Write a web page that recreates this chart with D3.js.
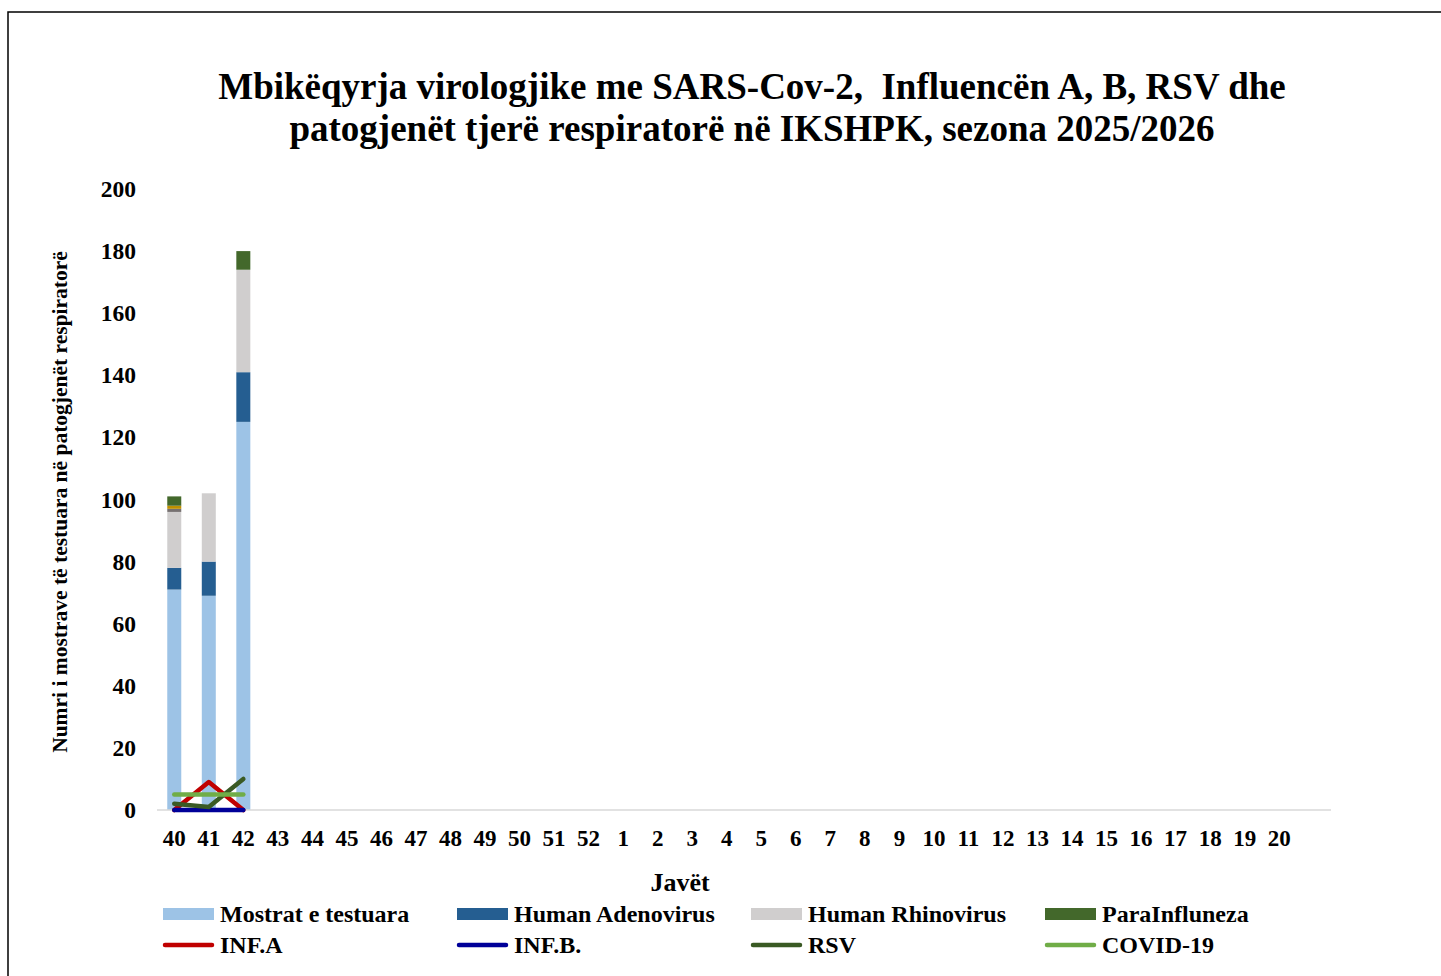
<!DOCTYPE html>
<html><head><meta charset="utf-8">
<script src="https://cdn.jsdelivr.net/npm/d3@7"></script>
<style>body{margin:0;background:#fff}svg{display:block}text{font-family:"Liberation Serif","Times New Roman",serif;font-weight:bold;fill:#000;white-space:pre}</style>
</head><body>
<script>
const weeks = ["40","41","42","43","44","45","46","47","48","49","50","51","52","1","2","3","4","5","6","7","8","9","10","11","12","13","14","15","16","17","18","19","20",""];
const mostrat     = [71, 69, 125];
const adenovirus  = [7, 11, 16];
const rhinovirus  = [18, 22, 33];
const otherGrey   = [1, 0, 0];
const otherGold   = [1, 0, 0];
const paraInfl    = [3, 0, 6];
const infA  = [0, 9, 0];
const infB  = [0, 0, 0];
const rsv   = [2, 1, 10];
const covid = [5, 5, 5];
const yTicks = [0,20,40,60,80,100,120,140,160,180,200];

const W = 1441, H = 976;
const svg = d3.select("body").append("svg").attr("width", W).attr("height", H);
svg.append("rect").attr("x", 8).attr("y", 12).attr("width", W).attr("height", H).attr("fill", "none").attr("stroke", "#000").attr("stroke-width", 1.5);

const x = d3.scaleBand().domain(d3.range(weeks.length)).range([157, 1331]).paddingInner(0).paddingOuter(0);
const y = d3.scaleLinear().domain([0, 200]).range([810, 189]);

// title
const title = svg.append("text").attr("text-anchor", "middle").style("font-size", "37px");
title.append("tspan").attr("x", 752).attr("y", 99).text("Mbikëqyrja virologjike me SARS-Cov-2,  Influencën A, B, RSV dhe");
title.append("tspan").attr("x", 752).attr("y", 141).text("patogjenët tjerë respiratorë në IKSHPK, sezona 2025/2026");

// stacked bars
const barSeries = [
  {name: "Mostrat e testuara", vals: mostrat, color: "#9DC3E6", legend: true},
  {name: "Human Adenovirus", vals: adenovirus, color: "#255E91", legend: true},
  {name: "Human Rhinovirus", vals: rhinovirus, color: "#D0CECE", legend: true},
  {name: "other grey", vals: otherGrey, color: "#767171", legend: false},
  {name: "other gold", vals: otherGold, color: "#BF9000", legend: false},
  {name: "ParaInfluneza", vals: paraInfl, color: "#43682B", legend: true}
];
const rows = mostrat.map((_, i) => { const o = {i}; barSeries.forEach((s, k) => o["s" + k] = s.vals[i]); return o; });
const stack = d3.stack().keys(barSeries.map((_, k) => "s" + k))(rows);
const barW = 14;
stack.forEach((layer, k) => {
  svg.append("g").selectAll("rect").data(layer).join("rect")
    .attr("x", d => x(d.data.i) + x.bandwidth() / 2 - barW / 2)
    .attr("width", barW)
    .attr("y", d => y(d[1]))
    .attr("height", d => y(d[0]) - y(d[1]))
    .attr("fill", barSeries[k].color);
});

// axis line
svg.append("line").attr("x1", 157).attr("x2", 1331).attr("y1", y(0)).attr("y2", y(0)).attr("stroke", "#D9D9D9").attr("stroke-width", 1.5);

// lines
const lineSeries = [
  {name: "INF.A", vals: infA, color: "#C00000"},
  {name: "INF.B.", vals: infB, color: "#000099"},
  {name: "RSV", vals: rsv, color: "#3A5A24"},
  {name: "COVID-19", vals: covid, color: "#70AD47"}
];
const line = d3.line().x((d, i) => x(i) + x.bandwidth() / 2).y(d => y(d));
lineSeries.forEach(s => {
  svg.append("path").attr("d", line(s.vals)).attr("fill", "none").attr("stroke", s.color)
    .attr("stroke-width", 4.5).attr("stroke-linecap", "round").attr("stroke-linejoin", "round");
});

// y axis labels
svg.append("g").selectAll("text").data(yTicks).join("text")
  .attr("x", 136).attr("y", d => y(d) + 8).attr("text-anchor", "end").style("font-size", "23.5px").text(d => d);

// x axis labels
svg.append("g").selectAll("text").data(weeks).join("text")
  .attr("x", (d, i) => x(i) + x.bandwidth() / 2).attr("y", 846).attr("text-anchor", "middle").style("font-size", "23px").text(d => d);

// axis titles
svg.append("text").attr("x", 680).attr("y", 891).attr("text-anchor", "middle").style("font-size", "26px").text("Javët");
svg.append("text").attr("transform", "translate(67,502) rotate(-90)").attr("text-anchor", "middle").style("font-size", "21.5px")
  .text("Numri i mostrave të testuara në patogjenët respiratorë");

// legend
const legItems = barSeries.filter(s => s.legend).map(s => ({...s, type: "bar"}))
  .concat(lineSeries.map(s => ({...s, type: "line"})));
const colX = [163, 457, 751, 1045];
legItems.forEach((s, idx) => {
  const cx = colX[idx % 4], cy = idx < 4 ? 914 : 945;
  if (s.type === "bar") svg.append("rect").attr("x", cx).attr("y", cy - 6).attr("width", 51).attr("height", 12).attr("fill", s.color);
  else svg.append("line").attr("x1", cx + 2).attr("x2", cx + 49).attr("y1", cy).attr("y2", cy).attr("stroke", s.color).attr("stroke-width", 4.5).attr("stroke-linecap", "round");
  svg.append("text").attr("x", cx + 57).attr("y", cy + 8).style("font-size", "24px").text(s.name);
});
</script>
</body></html>
